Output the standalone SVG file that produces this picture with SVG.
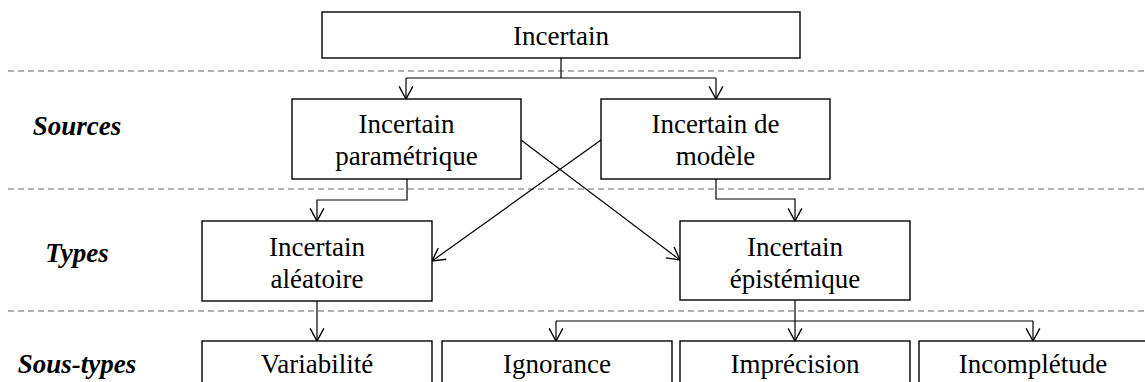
<svg xmlns="http://www.w3.org/2000/svg" width="1145" height="382" viewBox="0 0 1145 382" font-family="Liberation Serif, Times New Roman, serif">
<style>
.box{fill:#fff;stroke:#000;stroke-width:1.4}
.t{font-size:27px;fill:#000;text-anchor:middle}
.lab{font-size:27px;font-weight:bold;font-style:italic;fill:#000;text-anchor:middle}
.dash{stroke:#999;stroke-width:1.4;stroke-dasharray:6 4;fill:none}
.c{stroke:#000;stroke-width:1.2;fill:none}
</style>
<defs>
<marker id="arr" markerUnits="userSpaceOnUse" markerWidth="16" markerHeight="16" viewBox="-12 -7 14 14" refX="0" refY="0" orient="auto">
<path d="M-11,-6 L0,0 L-11,6" fill="none" stroke="#000" stroke-width="1.2"/>
</marker>
</defs>
<rect width="1145" height="382" fill="#fff"/>
<g id="separators">
<line class="dash" x1="8" y1="71" x2="1145" y2="71"/>
<line class="dash" x1="8" y1="189" x2="1145" y2="189"/>
<line class="dash" x1="8" y1="311" x2="1145" y2="311"/>
</g>
<g id="labels" font-family="Liberation Serif, serif">
<text class="lab" x="77" y="135">Sources</text>
<text class="lab" x="77" y="262">Types</text>
<text class="lab" x="77" y="373">Sous-types</text>
</g>
<g id="connectors">
<path class="c" d="M561,58 V78"/>
<path class="c" d="M406,78 H716"/>
<path class="c" d="M406,78 V99" marker-end="url(#arr)"/>
<path class="c" d="M716,78 V99" marker-end="url(#arr)"/>
<path class="c" d="M407,179 V200 H317 V221" marker-end="url(#arr)"/>
<path class="c" d="M716,179 V199 H795 V221" marker-end="url(#arr)"/>
<path class="c" d="M521,140 L680,260" marker-end="url(#arr)"/>
<path class="c" d="M601,140 L432,261" marker-end="url(#arr)"/>
<path class="c" d="M317,301 V341" marker-end="url(#arr)"/>
<path class="c" d="M795,300 V321"/>
<path class="c" d="M556,321 H1033"/>
<path class="c" d="M556,321 V341" marker-end="url(#arr)"/>
<path class="c" d="M795,321 V341" marker-end="url(#arr)"/>
<path class="c" d="M1033,321 V341" marker-end="url(#arr)"/>
</g>
<g id="nodes" font-family="Liberation Serif, serif">
<g id="n-incertain"><rect class="box" x="322" y="12" width="478" height="46"/><text class="t" x="561" y="45">Incertain</text></g>
<g id="n-parametrique"><rect class="box" x="292" y="99" width="229" height="80"/><text class="t" x="406.5" y="133">Incertain</text><text class="t" x="406.5" y="165">paramétrique</text></g>
<g id="n-modele"><rect class="box" x="601" y="99" width="229" height="80"/><text class="t" x="715.5" y="133">Incertain de</text><text class="t" x="715.5" y="165">modèle</text></g>
<g id="n-aleatoire"><rect class="box" x="202" y="221" width="230" height="80"/><text class="t" x="317" y="256">Incertain</text><text class="t" x="317" y="288">aléatoire</text></g>
<g id="n-epistemique"><rect class="box" x="680" y="221" width="230" height="79"/><text class="t" x="795" y="256">Incertain</text><text class="t" x="795" y="288">épistémique</text></g>
<g id="n-variabilite"><rect class="box" x="202" y="341" width="230" height="60"/><text class="t" x="317" y="373">Variabilité</text></g>
<g id="n-ignorance"><rect class="box" x="442" y="341" width="230" height="60"/><text class="t" x="557" y="373">Ignorance</text></g>
<g id="n-imprecision"><rect class="box" x="680" y="341" width="230" height="60"/><text class="t" x="795" y="373">Imprécision</text></g>
<g id="n-incompletude"><rect class="box" x="919" y="341" width="229" height="60"/><text class="t" x="1033" y="373">Incomplétude</text></g>
</g>
</svg>
